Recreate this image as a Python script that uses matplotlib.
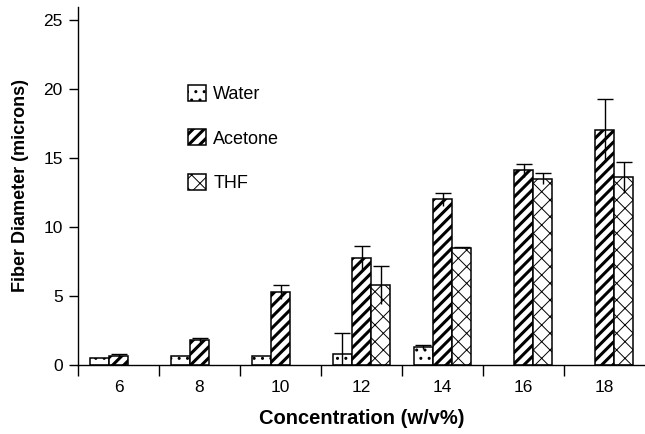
import matplotlib.pyplot as plt
import numpy as np

plt.rcParams['font.family'] = ['Liberation Sans', 'DejaVu Sans']

concentrations = ['6', '8', '10', '12', '14', '16', '18']
solvents = ['Water', 'Acetone', 'THF']

# mean fiber diameter (microns), 0 = no fibers
water = [0.5, 0.65, 0.65, 0.8, 1.3, 0.0, 0.0]
acetone = [0.65, 1.8, 5.3, 7.75, 12.0, 14.1, 17.0]
thf = [0.0, 0.0, 0.0, 5.8, 8.5, 13.5, 13.6]

# standard deviations
water_err = [0.0, 0.0, 0.0, 1.5, 0.15, 0.0, 0.0]
acetone_err = [0.15, 0.15, 0.5, 0.9, 0.5, 0.5, 2.3]
thf_err = [0.0, 0.0, 0.0, 1.4, 0.05, 0.4, 1.1]

hatches = ['..', '///', 'xx']
hatch_lw = [1.0, 2.2, 0.7]

fig = plt.figure(figsize=(6.45, 4.34), dpi=100)
ax = fig.add_axes([0.121, 0.159, 0.879, 0.825])

x = np.arange(len(concentrations))
width = 0.235
series = [(water, water_err), (acetone, acetone_err), (thf, thf_err)]

handles = []
for k, (vals, errs) in enumerate(series):
    vals = np.array(vals)
    errs = np.array(errs)
    pos = x + (k - 1) * width
    keep = vals > 0
    with plt.rc_context({'hatch.linewidth': hatch_lw[k]}):
        bars = ax.bar(pos[keep], vals[keep], width, color='white', edgecolor='black',
                      hatch=hatches[k], linewidth=1.1, label=solvents[k], zorder=2)
    for b in bars:
        if hasattr(b, 'set_hatch_linewidth'):
            b.set_hatch_linewidth(hatch_lw[k])
    handles.append(bars)
    has_err = keep & (errs > 0)
    eb = ax.errorbar(pos[has_err], vals[has_err], yerr=errs[has_err], fmt='none',
                     ecolor='black', elinewidth=1.0, capsize=6, capthick=1.0, zorder=3)
    eb[1][0].set_visible(False)  # only top caps

ax.set_xlim(-0.5, len(concentrations) - 0.5)
ax.set_ylim(0, 25.95)
ax.set_yticks([0, 5, 10, 15, 20, 25])

ax.set_xticks(np.arange(len(concentrations)) - 0.5)
ax.set_xticklabels([])
ax.set_xticks(x, minor=True)
ax.set_xticklabels(concentrations, minor=True)
ax.tick_params(axis='x', which='major', direction='out', length=8, width=1)
ax.tick_params(axis='x', which='minor', length=0, pad=11, labelsize=12.5)
ax.tick_params(axis='y', direction='out', length=6.5, width=1, pad=4.5, labelsize=12.5)

for side in ['top', 'right']:
    ax.spines[side].set_visible(False)
ax.spines['left'].set_linewidth(1)
ax.spines['bottom'].set_linewidth(1)

ax.set_xlabel('Concentration (w/v%)', fontsize=14.5, fontweight='bold', labelpad=10)
ax.set_ylabel('Fiber Diameter (microns)', fontsize=13, fontweight='bold', labelpad=10)

leg = ax.legend(handles=handles, labels=solvents, loc='upper left',
                bbox_to_anchor=(0.194, 0.782), borderaxespad=0, borderpad=0,
                frameon=False, fontsize=13, handlelength=1.0, handleheight=1.0,
                labelspacing=1.44, handletextpad=0.4)
for h, lw in zip(leg.legend_handles, hatch_lw):
    if hasattr(h, 'set_hatch_linewidth'):
        h.set_hatch_linewidth(lw)

plt.savefig('out.png', dpi=100)
